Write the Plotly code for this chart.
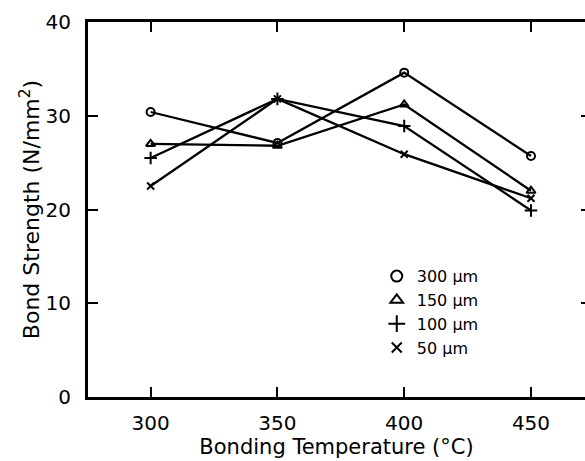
import plotly.graph_objects as go

# bonding temperature (degC)
temps = [300, 350, 400, 450]

# bond strength (N/mm^2) for each wire diameter
s300 = [30.4, 27.1, 34.6, 25.7]
s150 = [27.0, 26.8, 31.2, 22.0]
s100 = [25.5, 31.8, 28.9, 19.9]
s50 = [22.5, 31.8, 25.9, 21.2]

series = [
    ('300 \u00b5m', s300, 'circle-open', 8),
    ('150 \u00b5m', s150, 'triangle-up-open', 8),
    ('100 \u00b5m', s100, 'cross-thin-open', 9),
    ('50 \u00b5m', s50, 'x-thin-open', 7),
]

FONT = 'DejaVu Sans'

fig = go.Figure()

for name, vals, sym, size in series:
    fig.add_trace(go.Scatter(
        x=temps, y=vals, mode='lines+markers', showlegend=False,
        line=dict(color='black', width=2.3),
        marker=dict(symbol=sym, size=size, color='black',
                    line=dict(color='black', width=2)),
    ))

# legend entries show only the symbol, no line
for name, vals, sym, size in series:
    fig.add_trace(go.Scatter(
        x=[None], y=[None], mode='markers', name=name,
        marker=dict(symbol=sym, size=size + 3, color='black',
                    line=dict(color='black', width=2)),
    ))

# dummy trace on right axis so its inward ticks are drawn
fig.add_trace(go.Scatter(x=[None], y=[None], yaxis='y2', showlegend=False))

fig.update_layout(
    width=585, height=461,
    margin=dict(l=88, r=0, t=22, b=64),
    paper_bgcolor='white', plot_bgcolor='white',
    font=dict(family=FONT, size=20, color='black'),
    xaxis=dict(
        range=[275.3, 471.3], tickvals=temps, automargin=False,
        ticks='inside', ticklen=10, tickwidth=1.5, tickcolor='black',
        ticklabelstandoff=6,
        showline=True, linewidth=3, linecolor='black', mirror='ticks',
        showgrid=False, zeroline=False,
        title=dict(text='Bonding Temperature (\u00b0C)', standoff=4,
                   font=dict(size=21)),
    ),
    yaxis=dict(
        range=[0, 40], tickvals=[0, 10, 20, 30, 40], automargin=False,
        ticks='inside', ticklen=10, tickwidth=1.5, tickcolor='black',
        ticklabelstandoff=10,
        showline=True, linewidth=3, linecolor='black',
        showgrid=False, zeroline=False,
        title=dict(text='Bond Strength (N/mm<sup>2</sup>)', standoff=0,
                   font=dict(size=22)),
    ),
    yaxis2=dict(
        overlaying='y', side='right', range=[0, 40], automargin=False,
        tickvals=[10, 20, 30], showticklabels=False,
        ticks='inside', ticklen=4, tickwidth=1.5, tickcolor='black',
        showline=False, showgrid=False, zeroline=False,
    ),
    legend=dict(
        x=0.581, y=0.3675, xanchor='left', yanchor='top',
        bgcolor='rgba(0,0,0,0)', font=dict(size=16),
        itemwidth=30,
    ),
)

# drop the default body margin so the figure fills the window exactly
fig.write_html("out.html", config={'displayModeBar': False},
               post_script="document.body.style.margin='0';")
